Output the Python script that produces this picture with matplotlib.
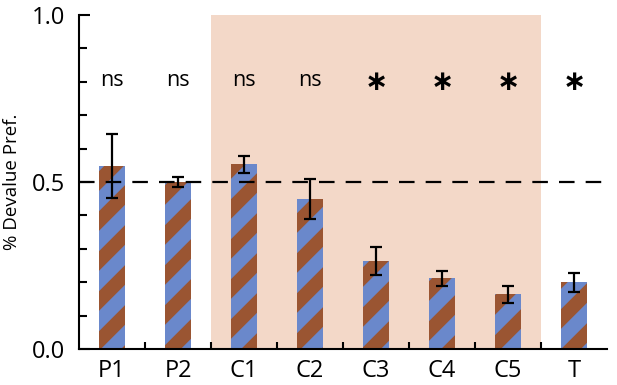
import matplotlib
matplotlib.use("Agg")
import matplotlib.pyplot as plt
from matplotlib.ticker import MultipleLocator, FixedLocator

categories = ["P1", "P2", "C1", "C2", "C3", "C4", "C5", "T"]
values = [0.548, 0.501, 0.553, 0.449, 0.263, 0.212, 0.164, 0.200]
errors = [0.095, 0.015, 0.025, 0.059, 0.041, 0.023, 0.025, 0.028]
signif = ["ns", "ns", "ns", "ns", "*", "*", "*", "*"]
shade_start, shade_end = 1.5, 6.5
chance = 0.5

DPI = 120
k = 100.0 / DPI  # keep pixel sizes as if designed at 100 dpi

plt.rcParams['font.family'] = ['Open Sans', 'DejaVu Sans']
plt.rcParams['hatch.linewidth'] = 10.0 * k

blue = "#6a88cb"
brown = "#9a5532"
peach = "#f3d8c8"

fig = plt.figure(figsize=(617 / DPI, 385 / DPI), dpi=DPI)
ax = fig.add_axes([0.128, 0.0935, 0.856, 0.8675])

x = list(range(len(categories)))
ax.axvspan(shade_start, shade_end, ymin=0, ymax=1, color=peach, zorder=0, lw=0)
ax.bar(x, values, width=0.4, color=blue, edgecolor=brown, hatch='/', linewidth=0, zorder=2)
ax.errorbar(x, values, yerr=errors, fmt='none', ecolor='black', elinewidth=1.6 * k,
            capsize=4.5 * k, capthick=1.6 * k, zorder=4)
ax.axhline(chance, color='black', lw=1.6 * k, ls=(0, (7, 5)), zorder=3)

for xi, s in zip(x, signif):
    if s == "*":
        ax.text(xi, 0.80, "\u2217", ha='center', va='center', fontsize=20 * k,
                fontweight='bold', family=['DejaVu Sans'], zorder=5)
    else:
        ax.text(xi, 0.805, s, ha='center', va='center', fontsize=15.5 * k, zorder=5)

ax.set_xlim(-0.5, 7.5)
ax.set_ylim(0, 1.0)
ax.spines['top'].set_visible(False)
ax.spines['right'].set_visible(False)
ax.spines['left'].set_linewidth(1.5 * k)
ax.spines['bottom'].set_linewidth(1.5 * k)

ax.set_xticks(x)
ax.set_xticklabels(categories, fontsize=17 * k)
ax.tick_params(axis='x', which='major', length=0, pad=7 * k)
ax.xaxis.set_minor_locator(FixedLocator([i + 0.5 for i in range(7)]))
ax.tick_params(axis='x', which='minor', direction='in', length=5 * k, width=1.5 * k)

ax.set_yticks([0.0, 0.5, 1.0])
ax.set_yticklabels(["0.0", "0.5", "1.0"], fontsize=17 * k)
ax.yaxis.set_minor_locator(MultipleLocator(0.1))
ax.tick_params(axis='y', which='major', direction='in', length=8 * k, width=1.5 * k, pad=10 * k)
ax.tick_params(axis='y', which='minor', direction='in', length=6 * k, width=1.5 * k)

ax.set_ylabel("% Devalue Pref.", fontsize=13.5 * k, va='center')
ax.yaxis.set_label_coords(-0.127, 0.5)

fig.savefig("out.png", dpi=DPI)
